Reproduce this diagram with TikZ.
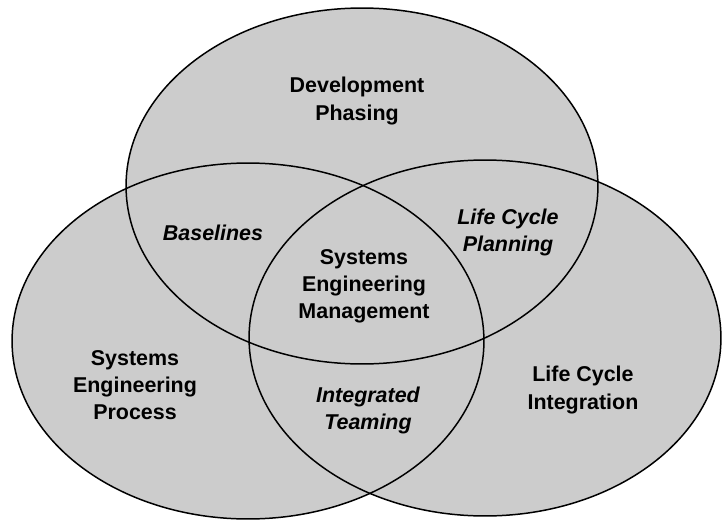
\documentclass[tikz,border=0pt]{standalone}
\usepackage{fontspec}
\setmainfont{Liberation Sans}
\usepackage{tikz}
\usetikzlibrary{shapes.geometric}
\definecolor{venngray}{HTML}{CCCCCC}
\tikzset{
    every node/.style={align=center, inner sep=0pt,
    	font=\fontsize{12.2}{15.4}\selectfont\bfseries}
}
\tikzset{
    set/.style={ellipse, draw, line width=0.85pt, minimum width=9.44cm,
    	minimum height=7.12cm}
}
\tikzset{
    overlap/.style={font=\fontsize{12.2}{15.4}\selectfont\bfseries\itshape}
}
\pgfdeclarelayer{background}
\pgfsetlayers{background,main}

\begin{document}
\begin{tikzpicture}[x=0.02cm, y=-0.02cm]
  \useasboundingbox (0,0) rectangle (728,521);
  \node (phasing) [set] at (362,186) {};
  \node (process) [set] at (248,341) {};
  \node (integration) [set] at (485,338) {};

  \begin{pgfonlayer}{background}
    \foreach \s in {phasing, process, integration}
      \fill [venngray] (\s.center) ellipse [x radius=4.72cm, y radius=3.56cm];
  \end{pgfonlayer}

  \node (dp) at (357,101) {Development\\Phasing};
  \node (sep) at (135,385) {Systems\\Engineering\\Process};
  \node (lci) at (583,390) {Life Cycle\\Integration};
  \node (sem) at (364,286) {Systems\\Engineering\\Management};

  \node (bl) [overlap] at (213,233) {Baselines};
  \node (lcp) [overlap] at (508,232) {Life Cycle\\Planning};
  \node (it) [overlap] at (368,410) {Integrated\\Teaming};
\end{tikzpicture}
\end{document}
